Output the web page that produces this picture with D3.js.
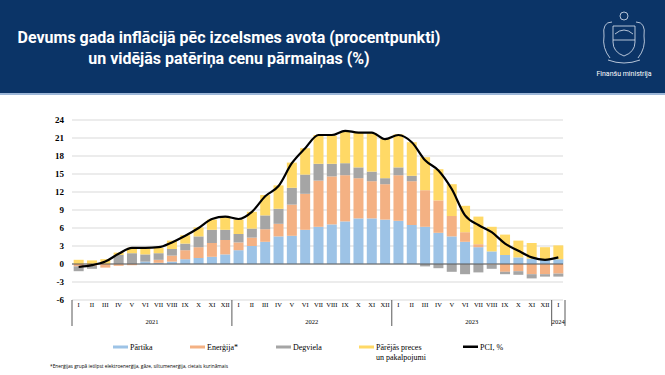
<!DOCTYPE html>
<html>
<head>
<meta charset="utf-8">
<script src="https://cdn.jsdelivr.net/npm/d3@7"></script>
<style>
  body { margin: 0; background: #fff; }
  svg { display: block; }
</style>
</head>
<body>
<script>
// data, Jan 2021 .. Jan 2024
var months = ["I","II","III","IV","V","VI","VII","VIII","IX","X","XI","XII",
              "I","II","III","IV","V","VI","VII","VIII","IX","X","XI","XII",
              "I","II","III","IV","V","VI","VII","VIII","IX","X","XI","XII",
              "I"];
var years = ["2021", "2022", "2023", "2024"];
var yearMonths = [12, 12, 12, 1];

var food   = [0,0,0,0,0,0.4,0.2,0.4,0.8,1.0,1.2,1.6, 2.3,3.0,3.7,4.6,4.7,5.7,6.2,6.6,7.1,7.6,7.6,7.4, 7.2,6.5,6.2,5.2,4.6,3.7,2.8,2.1,1.5,1.1,0.9,0.7, 0.8];
var energy = [-0.4,-0.3,-0.6,-0.3,-0.2,0,0.5,1.0,1.5,1.8,2.3,2.4, 1.3,1.4,2.1,2.1,5.2,6.0,7.7,8.0,7.7,6.7,6.2,5.9, 7.6,7.3,6.1,5.4,3.4,1.6,0.5,-0.1,-1.3,-1.2,-1.7,-1.7,-1.6];
var fuel   = [-0.8,-0.5,0,1.5,1.8,1.2,1.1,1.1,1.1,1.8,2.2,1.7, 1.4,1.5,2.3,2.5,2.8,3.2,2.8,2.1,2.0,1.8,1.6,1.0, 1.3,0.9,-0.4,-0.7,-1.3,-1.7,-1.4,-0.7,-0.4,-0.6,-0.7,-0.4,-0.5];
var other  = [0.7,0.6,0.8,0.4,0.9,1.0,0.9,1.4,1.4,1.5,1.7,2.3, 2.4,2.8,3.4,3.9,4.2,4.4,4.8,4.7,5.3,5.8,6.4,6.5, 5.5,5.6,5.5,5.2,5.3,4.4,4.6,4.1,3.4,2.8,2.6,2.1,2.3];
var pci    = [-0.5,-0.2,0.4,1.7,2.7,2.7,2.8,3.6,4.7,6.0,7.5,7.9, 7.5,8.7,11.3,13.0,16.8,19.3,21.5,21.5,22.2,21.9,21.9,20.8, 21.5,20.3,17.3,15.6,12.5,8.1,6.5,5.3,3.4,2.2,1.1,0.7,1.1];

var seriesKeys = ["food", "energy", "fuel", "other"];
var seriesNames = ["Pārtika", "Enerģija*", "Degviela", "Pārējās preces|un pakalpojumi"];
var colors = ["#9dc3e6", "#f4b183", "#a5a5a5", "#ffd966"];
var yTicks = [-6,-3,0,3,6,9,12,15,18,21,24];

var W = 665, H = 375;
var svg = d3.select("body").append("svg").attr("width", W).attr("height", H);

// header band
svg.append("rect").attr("x", 0).attr("y", 0).attr("width", W).attr("height", 93).attr("fill", "#0b3467");
svg.append("rect").attr("x", 0).attr("y", 93).attr("width", W).attr("height", 2).attr("fill", "#9db7d8");

var title = svg.append("g").attr("fill", "#fff").attr("font-family", "Roboto, sans-serif")
  .attr("font-weight", 700).attr("text-anchor", "middle");
title.append("text").attr("class", "t").attr("x", 229).attr("y", 43).text("Devums gada inflācijā pēc izcelsmes avota (procentpunkti)");
title.append("text").attr("class", "t").attr("x", 229).attr("y", 64).text("un vidējās patēriņa cenu pārmaiņas (%)");
// fit first line to ~423px wide like the original
var fs = 16;
title.attr("font-size", fs);
var tw = title.select("text").node().getComputedTextLength();
title.attr("font-size", fs * 423 / tw);

// simple coat-of-arms sketch
var logo = svg.append("g").attr("transform", "translate(624,36)").attr("fill", "none")
  .attr("stroke", "#dfe7f2").attr("stroke-width", 0.8);
logo.append("path").attr("d", "M-11,-10 L11,-10 L11,6 Q11,16 0,20 Q-11,16 -11,6 Z");
logo.append("path").attr("d", "M-9,-2 Q0,-10 9,-2");
logo.append("line").attr("x1", -11).attr("y1", 4).attr("x2", 11).attr("y2", 4);
logo.append("circle").attr("cx", 0).attr("cy", -20).attr("r", 4);
logo.append("path").attr("d", "M-12,-14 Q-22,-14 -20,0 Q-22,12 -14,22 M12,-14 Q22,-14 20,0 Q22,12 14,22");
logo.append("path").attr("d", "M-16,24 Q0,30 16,24");
svg.append("text").attr("x", 624).attr("y", 76).attr("text-anchor", "middle")
  .attr("font-family", "Roboto, sans-serif").attr("font-size", 7).attr("fill", "#fff")
  .text("Finanšu ministrija");

// chart
var x = d3.scaleBand().domain(d3.range(months.length)).range([72, 565])
  .paddingInner(0.25).paddingOuter(0.125);
var y = d3.scaleLinear().domain([-6, 24]).range([300, 120]);

var table = months.map(function(m, i) {
  return { food: food[i], energy: energy[i], fuel: fuel[i], other: other[i] };
});
var stacked = d3.stack().keys(seriesKeys).offset(d3.stackOffsetDiverging)(table);

// gridlines
svg.append("g").selectAll("line").data(yTicks).enter().append("line")
  .attr("x1", 72).attr("x2", 563)
  .attr("y1", function(d) { return y(d); }).attr("y2", function(d) { return y(d); })
  .attr("stroke", "#d9d9d9").attr("stroke-width", 1);

svg.append("g").selectAll("text").data(yTicks).enter().append("text")
  .attr("x", 64).attr("y", function(d) { return y(d) + 3; })
  .attr("text-anchor", "end").attr("font-family", "'Liberation Serif', serif")
  .attr("font-weight", 700).attr("font-size", 9).attr("fill", "#000")
  .text(function(d) { return d; });

// bars
svg.append("g").selectAll("g").data(stacked).enter().append("g")
  .attr("fill", function(d, i) { return colors[i]; })
  .selectAll("rect").data(function(d) { return d; }).enter().append("rect")
  .attr("x", function(d, i) { return x(i); })
  .attr("width", x.bandwidth())
  .attr("y", function(d) { return y(Math.max(d[0], d[1])); })
  .attr("height", function(d) { return Math.abs(y(d[0]) - y(d[1])); });

// zero line
svg.append("line").attr("x1", 72).attr("x2", 563).attr("y1", y(0)).attr("y2", y(0))
  .attr("stroke", "#595959").attr("stroke-width", 1);

// PCI line
var line = d3.line()
  .x(function(d, i) { return x(i) + x.bandwidth() / 2; })
  .y(function(d) { return y(d); })
  .curve(d3.curveMonotoneX);
svg.append("path").datum(pci).attr("d", line)
  .attr("fill", "none").attr("stroke", "#000").attr("stroke-width", 2.2);

// category axis: months + years
var step = x.step();
var x0 = 72;
var axis = svg.append("g").attr("font-family", "'Liberation Serif', serif").attr("fill", "#000");
axis.selectAll("text.m").data(months).enter().append("text").attr("class", "m")
  .attr("x", function(d, i) { return x(i) + x.bandwidth() / 2; }).attr("y", 307)
  .attr("text-anchor", "middle").attr("font-size", 6.5)
  .text(function(d) { return d; });

var start = 0;
var yearPos = years.map(function(yr, k) {
  var s = start; start += yearMonths[k];
  return { yr: yr, a: s, b: start };
});
axis.selectAll("line").data([0].concat(yearPos.map(function(d) { return d.b; }))).enter().append("line")
  .attr("x1", function(d) { return x0 + d * step; }).attr("x2", function(d) { return x0 + d * step; })
  .attr("y1", 300).attr("y2", 326).attr("stroke", "#595959").attr("stroke-width", 1);
axis.selectAll("text.y").data(yearPos).enter().append("text").attr("class", "y")
  .attr("x", function(d) { return x0 + (d.a + d.b) / 2 * step; }).attr("y", 324)
  .attr("text-anchor", "middle").attr("font-size", 6.5)
  .text(function(d) { return d.yr; });

// legend
var legX = [113, 190, 276, 359];
var leg = svg.append("g").attr("font-family", "'Liberation Serif', serif").attr("font-size", 8).attr("fill", "#000");
seriesNames.forEach(function(n, i) {
  leg.append("rect").attr("x", legX[i]).attr("y", 345.5).attr("width", 15).attr("height", 3).attr("fill", colors[i]);
  var t = leg.append("text").attr("x", legX[i] + 17).attr("y", 350);
  n.split("|").forEach(function(part, j) {
    t.append("tspan").attr("x", legX[i] + 17).attr("dy", j ? 9.5 : 0).text(part);
  });
});
leg.append("rect").attr("x", 463).attr("y", 345.5).attr("width", 15).attr("height", 2.5).attr("fill", "#000");
leg.append("text").attr("x", 480).attr("y", 350).text("PCI, %");

svg.append("text").attr("x", 50).attr("y", 367.5)
  .attr("font-family", "'Open Sans', sans-serif").attr("font-size", 4.8).attr("fill", "#000")
  .text("*Enerģijas grupā ietilpst elektroenerģija, gāze, siltumenerģija, cietais kurināmais");
</script>
</body>
</html>
